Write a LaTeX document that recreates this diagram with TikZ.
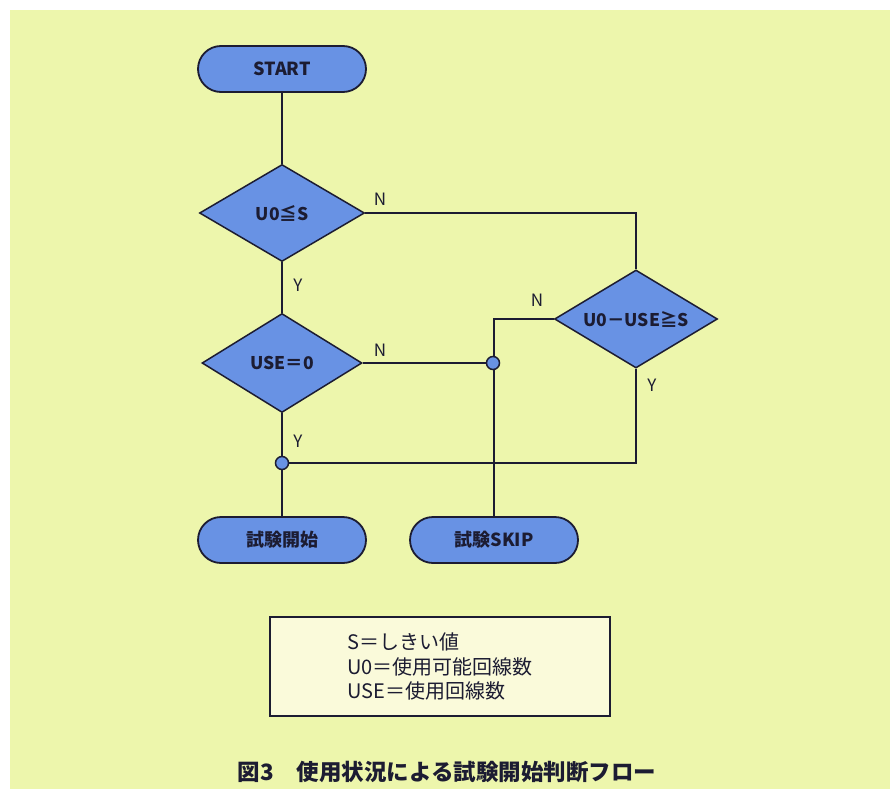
\documentclass[tikz,border=0pt]{standalone}
\usepackage{fontspec}
\setmainfont{Noto Sans CJK JP}
\usetikzlibrary{shapes.geometric,shapes.misc}
\definecolor{bgyel}{RGB}{237,246,172}
\definecolor{boxfill}{RGB}{104,146,228}
\definecolor{ink}{RGB}{28,28,50}
\definecolor{legfill}{RGB}{250,250,218}
\pgfdeclarelayer{back}
\pgfdeclarelayer{bg}
\pgfsetlayers{back,bg,main}
\tikzset{
  pill/.style={rounded rectangle, draw=ink, line width=1.8pt, fill=boxfill,
    minimum width=168pt, minimum height=46pt, inner sep=0pt,
    font=\bfseries\fontsize{18}{20}\selectfont, text=ink},
  decide/.style={diamond, draw=ink, line width=1.5pt, fill=boxfill,
    inner sep=0pt},
  dtext/.style={label={[font=\bfseries\fontsize{17.5}{20}\selectfont, text=ink, inner sep=0pt]center:#1}},
  joint/.style={circle, draw=ink, line width=1.5pt, fill=boxfill,
    minimum size=13pt, inner sep=0pt},
  wire/.style={draw=ink, line width=1.4pt},
  lab/.style={font=\fontsize{17}{19}\selectfont, text=ink, inner sep=0pt}
}
\begin{document}
\begin{tikzpicture}[x=1pt,y=-1pt]
\useasboundingbox (0,0) rectangle (896,789);
\begin{pgfonlayer}{back}
\fill[white] (0,0) rectangle (896,789);
\fill[bgyel] (10,10) rectangle (890,789);
\end{pgfonlayer}

\node[pill] (start) at (282,69) {START};
\node[decide, minimum width=165pt, minimum height=97pt, dtext={U0≦S}] (d1) at (282,213) {};
\node[decide, minimum width=160pt, minimum height=99pt, dtext={USE＝0}] (d2) at (282,363) {};
\node[decide, minimum width=163pt, minimum height=98pt, dtext={U0－USE≧S}] (d3) at (636,319) {};
\node[joint] (c1) at (493,363) {};
\node[joint] (c2) at (282,463) {};
\node[pill] (go) at (282,540) {試験開始};
\node[pill] (skip) at (494,540) {試験SKIP};

\begin{pgfonlayer}{bg}
\draw[wire] (start.south) -- (d1.north);
\draw[wire] (d1.south) -- (d2.north);
\draw[wire] (d1.east) -| (d3.north);
\draw[wire] (d3.west) -| (skip.north);
\draw[wire] (d2.east) -- (c1.center);
\draw[wire] (d3.south) |- (c2.center);
\draw[wire] (d2.south) -- (go.north);
\end{pgfonlayer}

\node[lab] (n1) at (380,199) {N};
\node[lab] (y1) at (298,285) {Y};
\node[lab] (n2) at (380,350) {N};
\node[lab] (n3) at (537,300) {N};
\node[lab] (y3) at (652,385) {Y};
\node[lab] (y2) at (298,441) {Y};

\node[draw=ink, line width=1.3pt, fill=legfill, minimum width=340pt, minimum height=99pt,
  align=left, font=\fontsize{20}{24.5}\selectfont, text=ink, inner sep=0pt] (legend) at (440,666.5)
  {S＝しきい値\\U0＝使用可能回線数\\USE＝使用回線数};

\node[font=\bfseries\fontsize{22.5}{25}\selectfont, text=ink, inner sep=0pt] (cap) at (447,772)
  {図3\hspace{1em}使用状況による試験開始判断フロー};
\end{tikzpicture}
\end{document}
